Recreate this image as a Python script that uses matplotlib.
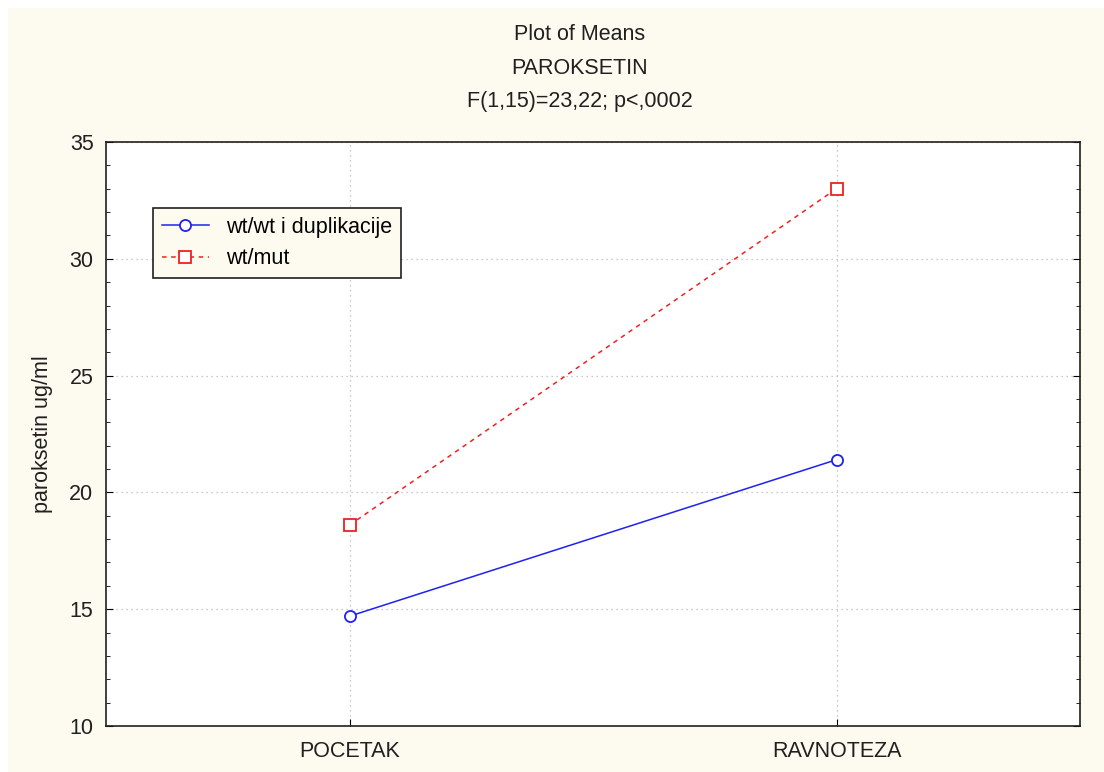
import matplotlib
matplotlib.use("Agg")
import matplotlib.pyplot as plt
from matplotlib.patches import Rectangle
from matplotlib.ticker import MultipleLocator

categories = ["POCETAK", "RAVNOTEZA"]
series_names = ["wt/wt i duplikacije", "wt/mut"]
wt_wt = [14.7, 21.4]
wt_mut = [18.6, 33.0]
title_lines = ["Plot of Means", "PAROKSETIN", "F(1,15)=23,22; p<,0002"]
ylabel = "paroksetin ug/ml"

plt.rcParams['font.family'] = ['Liberation Sans', 'DejaVu Sans']
FS = 15.5

W, H = 1104, 772
fig = plt.figure(figsize=(W / 100, H / 100), dpi=100, facecolor="white")
cream = "#FDFBF0"
fig.patches.append(Rectangle((8 / W, 0), 1 - 8 / W, 1 - 8 / H, transform=fig.transFigure,
                             facecolor=cream, edgecolor="none", zorder=-10))

ax = fig.add_axes([106 / W, 1 - 726 / H, (1080 - 106) / W, (726 - 142) / H])
ax.set_facecolor("white")

x = list(range(len(categories)))
ax.plot(x, wt_wt, color="#2020F0", lw=1.1, marker="o", ms=8, mfc="white",
        mec="#2020F0", mew=1.3, label=series_names[0], zorder=3)
ax.plot(x, wt_mut, color="#F02020", lw=1.1, ls=(0, (3, 3)), marker="s", ms=8, mfc="white",
        mec="#F02020", mew=1.3, label=series_names[1], zorder=3)

ax.set_xlim(-0.5, 1.5)
ax.set_ylim(10, 35)
ax.set_xticks(x)
ax.set_xticklabels(categories, fontsize=FS, color="#202020")
ax.yaxis.set_major_locator(MultipleLocator(5))
ax.yaxis.set_minor_locator(MultipleLocator(1))
ax.tick_params(axis="y", which="major", direction="in", length=5, labelsize=FS,
               right=True, labelcolor="#202020", pad=9)
ax.tick_params(axis="y", which="minor", direction="in", length=3, right=True)
ax.tick_params(axis="x", direction="in", length=5, pad=11)
ax.grid(True, which="major", color="#B8B8B8", ls=(0, (1, 3)), lw=0.9)
for s in ax.spines.values():
    s.set_color("#202020")
    s.set_linewidth(1.2)

ax.set_ylabel(ylabel, fontsize=FS, color="#202020", labelpad=12)

for i, t in enumerate(title_lines):
    fig.text(580 / W, 1 - (35 + i * 33) / H, t, ha="center", va="center",
             fontsize=FS, color="#202020")

leg = ax.legend(loc="upper left", bbox_to_anchor=((153 - 106) / (1080 - 106), 1 - (208 - 142) / (726 - 142)),
                fontsize=FS, frameon=True, fancybox=False, edgecolor="#202020",
                facecolor=cream, framealpha=1, borderpad=0.4, labelspacing=0.5,
                handlelength=2.2, handletextpad=0.8, borderaxespad=0)
leg.get_frame().set_linewidth(1.2)

fig.savefig("out.png", dpi=100, facecolor=fig.get_facecolor())
